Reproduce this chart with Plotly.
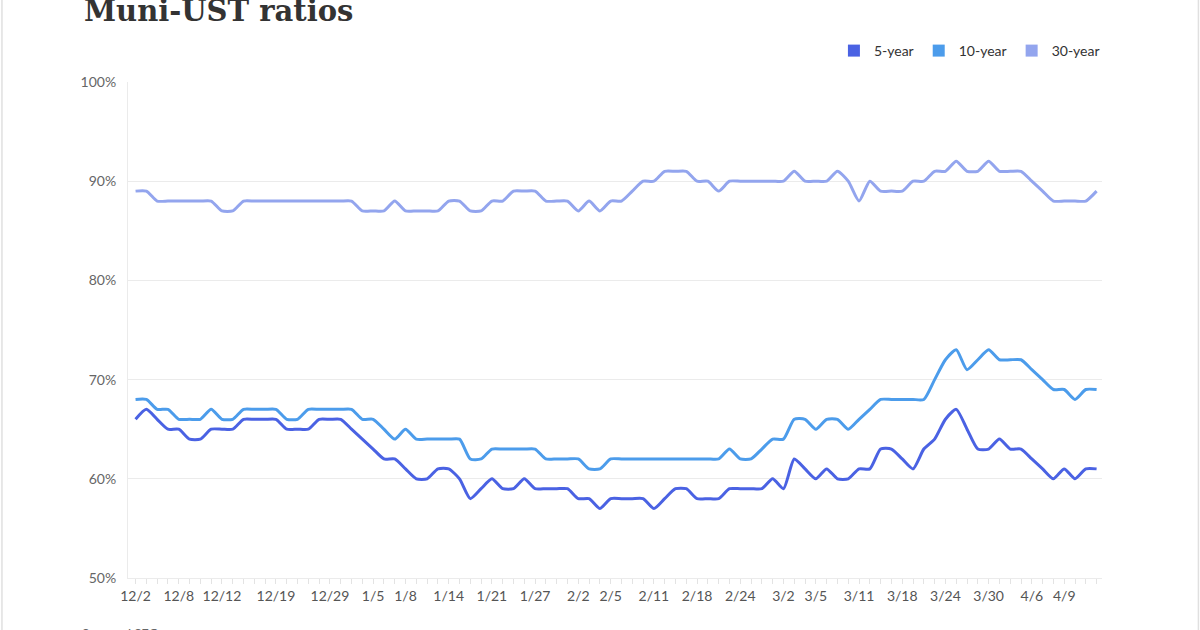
import plotly.graph_objects as go

# -----------------------------
# Data
# -----------------------------
DATES = [
    "12/2", "12/3", "12/4", "12/5", "12/8", "12/9", "12/10", "12/11", "12/12",
    "12/15", "12/16", "12/17", "12/18", "12/19", "12/22", "12/23", "12/24",
    "12/26", "12/29", "12/30", "12/31", "1/2", "1/5", "1/6", "1/7", "1/8",
    "1/9", "1/12", "1/13", "1/14", "1/15", "1/16", "1/20", "1/21", "1/22",
    "1/23", "1/26", "1/27", "1/28", "1/29", "1/30", "2/2", "2/3", "2/4", "2/5",
    "2/6", "2/9", "2/10", "2/11", "2/12", "2/13", "2/17", "2/18", "2/19",
    "2/20", "2/23", "2/24", "2/25", "2/26", "2/27", "3/2", "3/3", "3/4", "3/5",
    "3/6", "3/9", "3/10", "3/11", "3/12", "3/13", "3/17", "3/18", "3/19",
    "3/20", "3/23", "3/24", "3/25", "3/26", "3/27", "3/30", "3/31", "4/1",
    "4/2", "4/6", "4/7", "4/8", "4/9", "4/10", "4/13", "4/14",
]

TICK_LABELS = [
    "12/2", "12/8", "12/12", "12/19", "12/29", "1/5", "1/8", "1/14", "1/21",
    "1/27", "2/2", "2/5", "2/11", "2/18", "2/24", "3/2", "3/5", "3/11", "3/18",
    "3/24", "3/30", "4/6", "4/9",
]

Y_TICKS = [50, 60, 70, 80, 90, 100]

YEAR_5 = [
    66, 67, 66, 65, 65, 64, 64, 65, 65, 65, 66, 66, 66, 66, 65, 65, 65, 66,
    66, 66, 65, 64, 63, 62, 62, 61, 60, 60, 61, 61, 60, 58, 59, 60, 59, 59,
    60, 59, 59, 59, 59, 58, 58, 57, 58, 58, 58, 58, 57, 58, 59, 59, 58, 58,
    58, 59, 59, 59, 59, 60, 59, 62, 61, 60, 61, 60, 60, 61, 61, 63, 63, 62,
    61, 63, 64, 66, 67, 65, 63, 63, 64, 63, 63, 62, 61, 60, 61, 60, 61, 61,
]

YEAR_10 = [
    68, 68, 67, 67, 66, 66, 66, 67, 66, 66, 67, 67, 67, 67, 66, 66, 67, 67,
    67, 67, 67, 66, 66, 65, 64, 65, 64, 64, 64, 64, 64, 62, 62, 63, 63, 63,
    63, 63, 62, 62, 62, 62, 61, 61, 62, 62, 62, 62, 62, 62, 62, 62, 62, 62,
    62, 63, 62, 62, 63, 64, 64, 66, 66, 65, 66, 66, 65, 66, 67, 68, 68, 68,
    68, 68, 70, 72, 73, 71, 72, 73, 72, 72, 72, 71, 70, 69, 69, 68, 69, 69,
]

YEAR_30 = [
    89, 89, 88, 88, 88, 88, 88, 88, 87, 87, 88, 88, 88, 88, 88, 88, 88, 88,
    88, 88, 88, 87, 87, 87, 88, 87, 87, 87, 87, 88, 88, 87, 87, 88, 88, 89,
    89, 89, 88, 88, 88, 87, 88, 87, 88, 88, 89, 90, 90, 91, 91, 91, 90, 90,
    89, 90, 90, 90, 90, 90, 90, 91, 90, 90, 90, 91, 90, 88, 90, 89, 89, 89,
    90, 90, 91, 91, 92, 91, 91, 92, 91, 91, 91, 90, 89, 88, 88, 88, 88, 89,
]

SERIES = [
    ("5-year", YEAR_5, "#4A62E3"),
    ("10-year", YEAR_10, "#4C9CEB"),
    ("30-year", YEAR_30, "#93A5EE"),
]

GRID_COLOR = "#EBEBEB"
TEXT_COLOR = "#555555"

# -----------------------------
# Build figure
# -----------------------------
fig = go.Figure()

for name, values, color in SERIES:
    fig.add_trace(go.Scatter(
        x=DATES,
        y=values,
        mode="lines",
        name=name,
        line=dict(color=color, width=3, shape="spline", smoothing=0.6),
        showlegend=False,
        hoverinfo="skip",
    ))

# legend swatches
for name, values, color in SERIES:
    fig.add_trace(go.Scatter(
        x=[None],
        y=[None],
        mode="markers",
        name=name,
        marker=dict(symbol="square", size=12, color=color),
    ))

tick_text = [d if d in TICK_LABELS else "" for d in DATES]

fig.update_layout(
    width=1200,
    height=630,
    plot_bgcolor="white",
    paper_bgcolor="white",
    font=dict(family="Lato", color=TEXT_COLOR, size=14),
    margin=dict(l=128, r=98, t=82, b=52),
    showlegend=True,
    legend=dict(
        orientation="h",
        x=1.003,
        xanchor="right",
        y=1.0625,
        yanchor="middle",
        font=dict(family="Lato", size=14, color="#333333"),
        itemwidth=30,
        bgcolor="rgba(0,0,0,0)",
    ),
    xaxis=dict(
        type="category",
        categoryorder="array",
        categoryarray=DATES,
        range=[-0.7, 89.5],
        tickmode="array",
        tickvals=DATES,
        ticktext=tick_text,
        ticks="outside",
        ticklen=5,
        tickcolor="#E3E3E3",
        tickfont=dict(family="Lato", size=14, color=TEXT_COLOR),
        showgrid=False,
        showline=True,
        linecolor=GRID_COLOR,
        zeroline=False,
    ),
    yaxis=dict(
        range=[50, 100],
        tickmode="array",
        tickvals=Y_TICKS,
        ticktext=[f"{v}%" for v in Y_TICKS],
        tickfont=dict(family="Lato", size=14, color="#666666"),
        showgrid=True,
        gridcolor=GRID_COLOR,
        zeroline=False,
        showline=True,
        linecolor=GRID_COLOR,
        ticks="",
        ticklabelstandoff=8,
    ),
)

# title (cut at the top, as in the reference)
fig.add_annotation(
    text="<b>Muni-UST ratios</b>",
    xref="paper", yref="paper",
    x=-0.0472, y=1.105,
    xanchor="left", yanchor="bottom",
    showarrow=False,
    font=dict(family="DejaVu Serif", size=29, color="#333333"),
)

# source line
fig.add_annotation(
    text="Source: LSEG",
    xref="paper", yref="paper",
    x=-0.049, y=-0.092,
    xanchor="left", yanchor="top",
    showarrow=False,
    font=dict(family="Lato", size=13, color="#666666"),
)

# card border at the page edges
for xpos in [-0.1294, 1.0990]:
    fig.add_shape(
        type="line",
        xref="paper", yref="paper",
        x0=xpos, x1=xpos, y0=-0.2, y1=1.2,
        line=dict(color="#E0E0E0", width=1.5),
    )

fig.write_html(
    "out.html",
    config={"displayModeBar": False},
    post_script="document.body.style.margin='0';",
)
